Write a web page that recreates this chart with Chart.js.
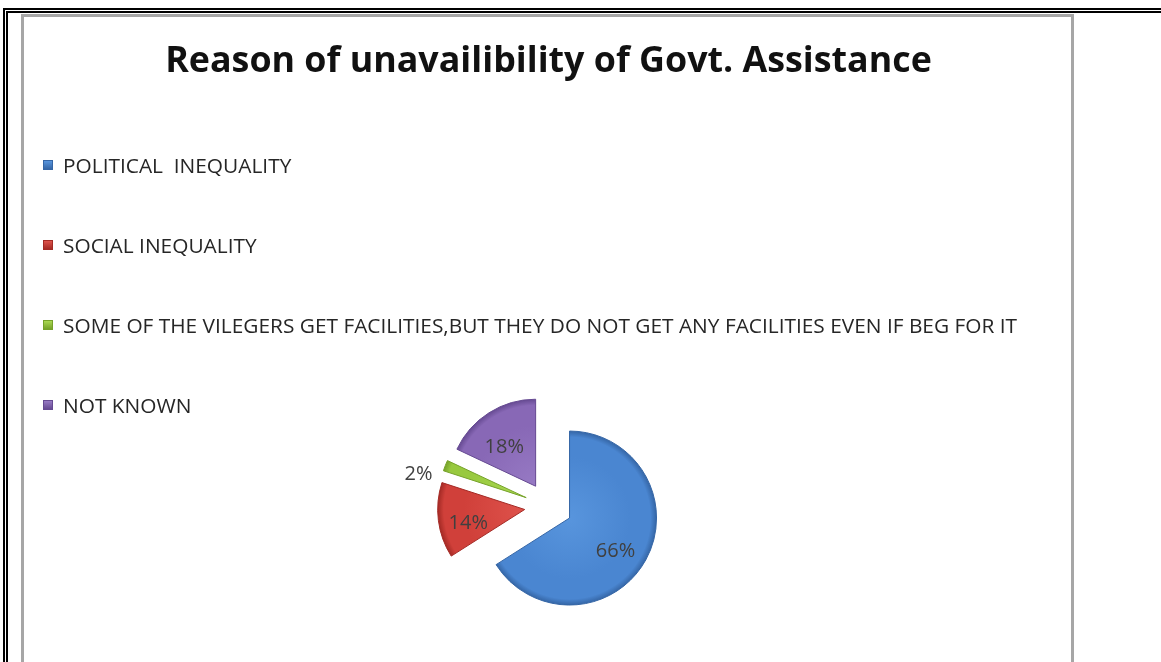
<!DOCTYPE html>
<html>
<head>
<meta charset="utf-8">
<title>Reason of unavailibility of Govt. Assistance</title>
<script src="https://cdn.jsdelivr.net/npm/chart.js@4.4.1/dist/chart.umd.min.js"></script>
<style>
  html, body { margin: 0; padding: 0; background: #fff; width: 1161px; height: 662px; overflow: hidden; }
  /* double rule of the surrounding table cell */
  .cell-rule { position: absolute; left: 3px; top: 8px; right: -10px; bottom: -20px;
               border-top: 5px double #000; border-left: 5px double #000; }
  .frame { position: absolute; left: 21px; top: 14px; width: 1053px; height: 700px;
           box-sizing: border-box; border: 3px solid #a6a6a6; }
  #chartBox { position: absolute; left: 24px; top: 17px; width: 1047px; height: 645px; }
  #legend { position: absolute; left: 43px; top: 0; font-family: "Open Sans"; font-size: 20.85px; color: #262626; }
  #legend .item { position: absolute; left: 0; display: flex; align-items: center; white-space: pre; line-height: 20px; }
  #legend .swatch { width: 10px; height: 10px; margin-right: 10px; box-sizing: border-box; }
</style>
</head>
<body>
<div class="cell-rule"></div>
<div class="frame"></div>
<div id="chartBox"><canvas id="reasonChart"></canvas></div>
<div id="legend"></div>
<script>
const categories = [
  "POLITICAL  INEQUALITY",
  "SOCIAL INEQUALITY",
  "SOME OF THE VILEGERS GET FACILITIES,BUT THEY DO NOT GET ANY FACILITIES EVEN IF BEG FOR IT",
  "NOT KNOWN"
];
const shares = [66, 14, 2, 18];

const baseColors = ["#4a86d1", "#d0403a", "#98c93f", "#8868b6"];
const lightColors = ["#5895dd", "#de524b", "#aad851", "#977ac4"];
const darkColors = ["#3566a6", "#a42a25", "#76a22a", "#664a92"];

const pieRadius = 87;
const explode = 24;
const legendRows = [155, 235, 315, 395];

// middle angle of slice i, same convention as Chart.js (start at 12 o'clock)
function midAngle(i) {
  const total = shares.reduce((a, b) => a + b, 0);
  const before = shares.slice(0, i).reduce((a, b) => a + b, 0);
  return -Math.PI / 2 + 2 * Math.PI * (before + shares[i] / 2) / total;
}

// pull every slice out along its bisector by the same distance
// (the built-in offset also enlarges wide slices, so move the centres instead)
const explodeSlices = {
  id: "explodeSlices",
  afterDatasetUpdate(chart, args) {
    args.meta.data.forEach((arc, i) => {
      const a = midAngle(i);
      arc.x += Math.cos(a) * explode;
      arc.y += Math.sin(a) * explode;
    });
  }
};

// bevel-ish shading: light centre, darker rim
function sliceFill(context) {
  const i = context.dataIndex;
  const chart = context.chart;
  const area = chart.chartArea;
  if (!area || i === undefined) return baseColors[i];
  const a = midAngle(i);
  const cx = (area.left + area.right) / 2 + Math.cos(a) * explode;
  const cy = (area.top + area.bottom) / 2 + Math.sin(a) * explode;
  const g = chart.ctx.createRadialGradient(cx, cy, 0, cx, cy, pieRadius);
  g.addColorStop(0, lightColors[i]);
  g.addColorStop(0.7, baseColors[i]);
  g.addColorStop(0.93, baseColors[i]);
  g.addColorStop(1, darkColors[i]);
  return g;
}

// percentage text inside each slice, outside (and a bit lower) for the thin ones
const sliceLabels = {
  id: "sliceLabels",
  afterDatasetsDraw(chart) {
    const ctx = chart.ctx;
    const meta = chart.getDatasetMeta(0);
    ctx.save();
    ctx.font = '20px "Open Sans"';
    ctx.fillStyle = "#404040";
    ctx.textAlign = "center";
    ctx.textBaseline = "middle";
    meta.data.forEach((arc, i) => {
      const p = arc.getProps(["x", "y", "startAngle", "endAngle"], true);
      const mid = (p.startAngle + p.endAngle) / 2;
      const outside = shares[i] < 5;
      const dist = pieRadius * (outside ? 1.33 : 0.63);
      const tx = p.x + Math.cos(mid) * dist + (outside ? 0 : -2);
      const ty = p.y + Math.sin(mid) * dist + (outside ? 19 : 7);
      ctx.fillText(shares[i] + "%", tx, ty);
    });
    ctx.restore();
  }
};

const chart = new Chart(document.getElementById("reasonChart").getContext("2d"), {
  type: "pie",
  data: {
    labels: categories,
    datasets: [{
      data: shares,
      backgroundColor: sliceFill,
      borderColor: darkColors,
      borderWidth: 1
    }]
  },
  options: {
    responsive: true,
    maintainAspectRatio: false,
    animation: false,
    radius: pieRadius,
    layout: { padding: { left: 2, right: 0, top: 0, bottom: 0 } },
    plugins: {
      legend: { display: false },
      tooltip: { enabled: false },
      title: {
        display: true,
        text: "Reason of unavailibility of Govt. Assistance",
        color: "#111",
        font: { family: "Open Sans", size: 35.8, weight: "bold", lineHeight: 1.2 },
        padding: { top: 23, bottom: 268 }
      }
    }
  },
  plugins: [explodeSlices, sliceLabels]
});

// legend built from the chart's own labels
const legendEl = document.getElementById("legend");
chart.data.labels.forEach((label, i) => {
  const item = document.createElement("div");
  item.className = "item";
  item.style.top = legendRows[i] + "px";
  const swatch = document.createElement("span");
  swatch.className = "swatch";
  swatch.style.background = "linear-gradient(180deg, " + lightColors[i] + ", " + darkColors[i] + ")";
  swatch.style.border = "1px solid " + darkColors[i];
  const text = document.createElement("span");
  text.textContent = label;
  item.appendChild(swatch);
  item.appendChild(text);
  legendEl.appendChild(item);
});
</script>
</body>
</html>
